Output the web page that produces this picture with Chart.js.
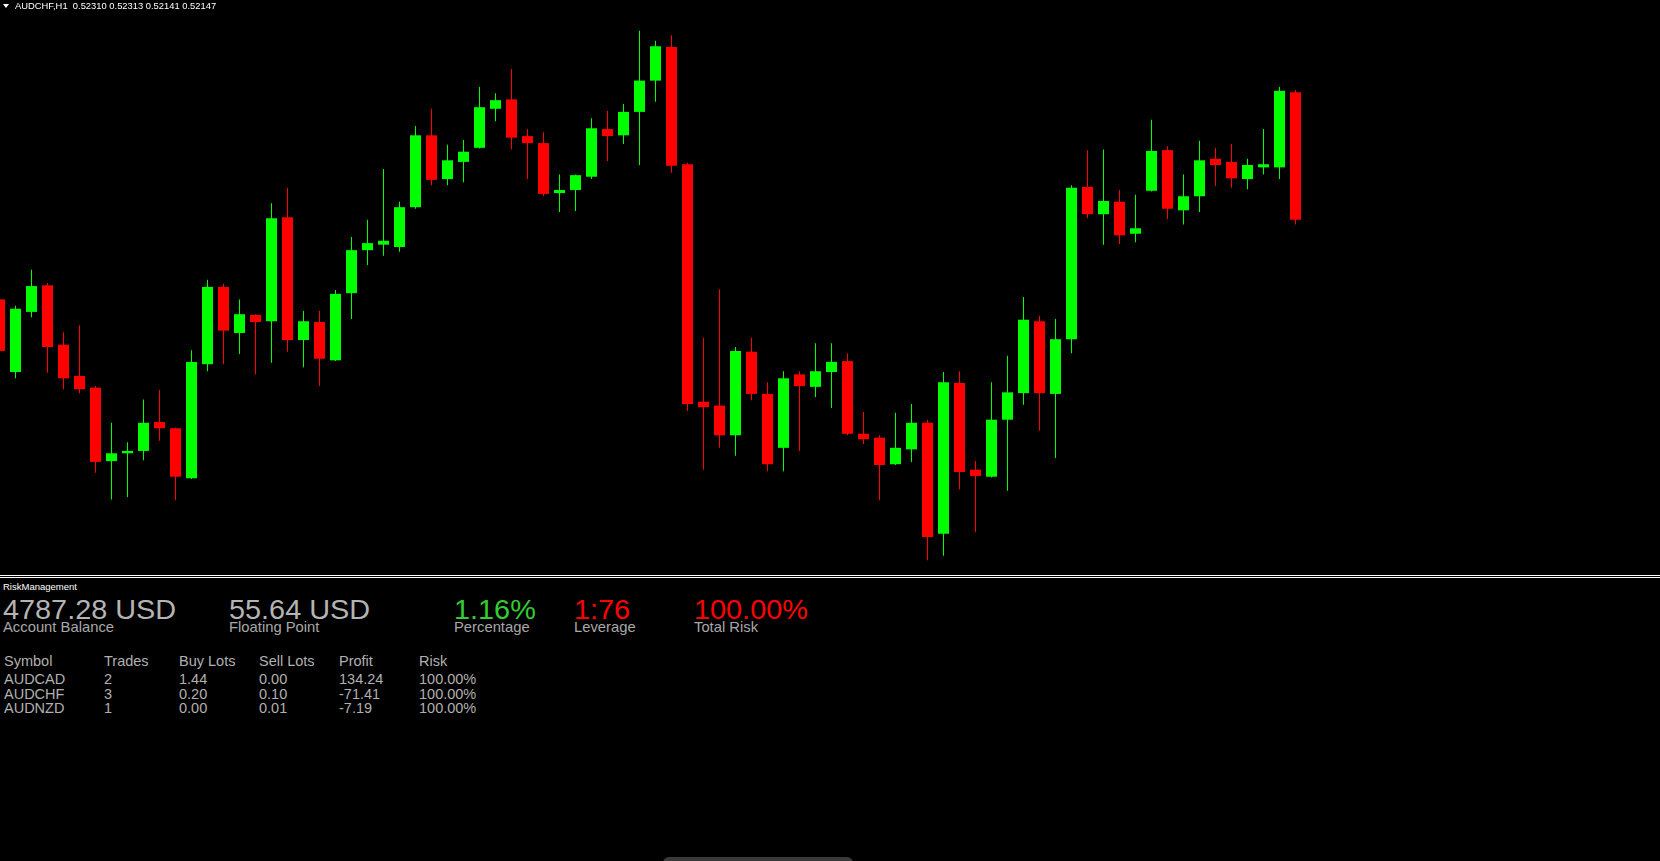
<!DOCTYPE html>
<html>
<head>
<meta charset="utf-8">
<script src="https://cdn.jsdelivr.net/npm/chart.js@4.4.0/dist/chart.umd.min.js"></script>
<style>
  html, body { margin: 0; padding: 0; background: #000; }
  body { width: 1660px; height: 861px; position: relative; overflow: hidden; font-family: "Liberation Sans", Arial, sans-serif; }
  #wrap { position: absolute; left: 0; top: 0; width: 1660px; height: 574px; }
  .t { position: absolute; line-height: 1; white-space: pre; transform-origin: 0 0; }
  .sep { position: absolute; left: 0; width: 1660px; height: 1px; background: #fff; }
  .big { font-size: 28px; color: #b4b4b4; transform: scaleX(1.03); }
  .lbl { font-size: 14.5px; color: #a8a8a8; transform: scaleX(1.02); }
  .tb { font-size: 14.5px; color: #b0b0b0; }
</style>
</head>
<body>
<div id="wrap"><canvas id="c"></canvas></div>

<div style="position:absolute;left:3px;top:4px;width:0;height:0;border-left:3px solid transparent;border-right:3px solid transparent;border-top:4px solid #fff;"></div>
<div class="t" style="left:15px;top:1px;font-size:9.4px;color:#fff;">AUDCHF,H1  0.52310 0.52313 0.52141 0.52147</div>

<div class="sep" style="top:575px"></div>
<div class="sep" style="top:577px"></div>
<div class="t" style="left:3px;top:582px;font-size:9.5px;color:#fff;">RiskManagement</div>

<div id="panel"></div>
<div style="position:absolute;left:663px;top:857px;width:190px;height:6px;background:#3a3a3a;border-radius:6px 6px 0 0;"></div>

<script>
// AUDCHF H1 candles, left to right
const opens  = [0.52045,0.51952,0.52029,0.52063,0.51987,0.51947,0.51932,0.51838,0.51848,0.51851,
                0.51888,0.51880,0.51816,0.51962,0.52061,0.52002,0.52025,0.52017,0.52150,0.51993,
                0.52016,0.51967,0.52053,0.52108,0.52115,0.52112,0.52163,0.52255,0.52199,0.52221,
                0.52239,0.52289,0.52301,0.52254,0.52245,0.52181,0.52185,0.52202,0.52263,0.52255,
                0.52285,0.52325,0.52368,0.52218,0.51914,0.51909,0.51871,0.51978,0.51924,0.51855,
                0.51949,0.51933,0.51952,0.51966,0.51873,0.51868,0.51834,0.51853,0.51887,0.51745,
                0.51938,0.51827,0.51818,0.51891,0.51925,0.52017,0.51924,0.51994,0.52189,0.52154,
                0.52170,0.52129,0.52184,0.52236,0.52159,0.52177,0.52225,0.52221,0.52199,0.52214,
                0.52214,0.52310];
const highs  = [0.52047,0.52037,0.52083,0.52066,0.52003,0.52012,0.51934,0.51887,0.51862,0.51917,
                0.51929,0.51881,0.51980,0.52070,0.52065,0.52045,0.52026,0.52168,0.52188,0.52030,
                0.52030,0.52057,0.52125,0.52147,0.52212,0.52170,0.52267,0.52289,0.52243,0.52249,
                0.52317,0.52309,0.52340,0.52263,0.52259,0.52205,0.52205,0.52277,0.52286,0.52295,
                0.52389,0.52376,0.52383,0.52220,0.51996,0.52058,0.51984,0.51996,0.51939,0.51953,
                0.51953,0.51989,0.51989,0.51976,0.51901,0.51871,0.51900,0.51911,0.51891,0.51952,
                0.51953,0.51838,0.51939,0.51973,0.52048,0.52024,0.52020,0.52191,0.52236,0.52237,
                0.52185,0.52179,0.52275,0.52241,0.52205,0.52248,0.52239,0.52244,0.52225,0.52263,
                0.52317,0.52313];
const lows   = [0.51974,0.51944,0.52022,0.51951,0.51930,0.51925,0.51823,0.51789,0.51792,0.51839,
                0.51864,0.51788,0.51815,0.51953,0.51962,0.51975,0.51949,0.51964,0.51978,0.51958,
                0.51934,0.51966,0.52020,0.52089,0.52101,0.52106,0.52161,0.52191,0.52191,0.52195,
                0.52238,0.52273,0.52237,0.52199,0.52177,0.52157,0.52158,0.52199,0.52222,0.52244,
                0.52217,0.52298,0.52207,0.51902,0.51827,0.51855,0.51845,0.51916,0.51825,0.51825,
                0.51851,0.51920,0.51906,0.51871,0.51860,0.51788,0.51833,0.51837,0.51711,0.51717,
                0.51802,0.51747,0.51817,0.51800,0.51910,0.51877,0.51842,0.51976,0.52149,0.52115,
                0.52116,0.52118,0.52183,0.52148,0.52141,0.52157,0.52190,0.52188,0.52186,0.52205,
                0.52199,0.52141];
const closes = [0.51979,0.52033,0.52062,0.51984,0.51944,0.51930,0.51837,0.51848,0.51851,0.51887,
                0.51880,0.51818,0.51965,0.52061,0.52005,0.52026,0.52016,0.52149,0.51993,0.52017,
                0.51969,0.52052,0.52108,0.52117,0.52120,0.52163,0.52255,0.52198,0.52223,0.52234,
                0.52291,0.52300,0.52252,0.52245,0.52180,0.52185,0.52204,0.52264,0.52254,0.52285,
                0.52325,0.52369,0.52216,0.51911,0.51907,0.51871,0.51979,0.51924,0.51834,0.51944,
                0.51934,0.51953,0.51965,0.51873,0.51866,0.51833,0.51855,0.51887,0.51741,0.51939,
                0.51824,0.51819,0.51891,0.51926,0.52019,0.51925,0.51994,0.52188,0.52154,0.52171,
                0.52127,0.52136,0.52235,0.52161,0.52177,0.52223,0.52217,0.52200,0.52217,0.52218,
                0.52312,0.52147];
const bars = opens.map((_, i) => i);

// risk panel
const summaryValues = ['4787.28 USD', '55.64 USD', '1.16%', '1:76', '100.00%'];
const summaryLabels = ['Account Balance', 'Floating Point', 'Percentage', 'Leverage', 'Total Risk'];
const summaryColors = ['#b4b4b4', '#b4b4b4', '#32cd32', '#ff0000', '#ff0000'];
const tableHeader = ['Symbol', 'Trades', 'Buy Lots', 'Sell Lots', 'Profit', 'Risk'];
const symbols  = ['AUDCAD', 'AUDCHF', 'AUDNZD'];
const trades   = ['2', '3', '1'];
const buyLots  = ['1.44', '0.20', '0.00'];
const sellLots = ['0.00', '0.10', '0.01'];
const profits  = ['134.24', '-71.41', '-7.19'];
const risks    = ['100.00%', '100.00%', '100.00%'];

const UP = '#00ff00', DOWN = '#ff0000';
const col = ctx => closes[ctx.dataIndex] >= opens[ctx.dataIndex] ? UP : DOWN;

new Chart(document.getElementById('c'), {
  type: 'bar',
  data: {
    datasets: [
      {
        data: bars.map(i => ({ x: i, y: [lows[i], highs[i]] })),
        backgroundColor: col, barThickness: 1, grouped: false, order: 2
      },
      {
        data: bars.map(i => ({ x: i, y: [opens[i], closes[i]] })),
        backgroundColor: col, barThickness: 11, grouped: false, order: 1
      }
    ]
  },
  options: {
    responsive: true,
    maintainAspectRatio: false,
    animation: false,
    devicePixelRatio: 1,
    layout: { padding: 0 },
    datasets: { bar: { borderWidth: 0, borderSkipped: false, inflateAmount: 0 } },
    plugins: { legend: { display: false }, tooltip: { enabled: false }, title: { display: false } },
    scales: {
      x: { type: 'linear', display: false, offset: false, min: 0.03125, max: 103.78125 },
      y: { display: false, min: 0.5169348, max: 0.524282 }
    }
  }
});

// panel text
const panel = document.getElementById('panel');
function put(txt, x, top, cls, color) {
  const d = document.createElement('div');
  d.className = 't ' + cls;
  d.textContent = txt;
  d.style.left = x + 'px';
  d.style.top = top + 'px';
  if (color) d.style.color = color;
  panel.appendChild(d);
}
const sumX = [3, 229, 454, 574, 694];
summaryValues.forEach((v, i) => put(v, sumX[i], 596.3, 'big', summaryColors[i]));
summaryLabels.forEach((v, i) => put(v, sumX[i], 619.7, 'lbl'));

const colX = [4, 104, 179, 259, 339, 419];
tableHeader.forEach((h, i) => put(h, colX[i], 653.7, 'tb'));
const rowTop = [672.2, 686.7, 701.2];
symbols.forEach((s, r) => {
  [s, trades[r], buyLots[r], sellLots[r], profits[r], risks[r]]
    .forEach((v, i) => put(v, colX[i], rowTop[r], 'tb'));
});
</script>
</body>
</html>
